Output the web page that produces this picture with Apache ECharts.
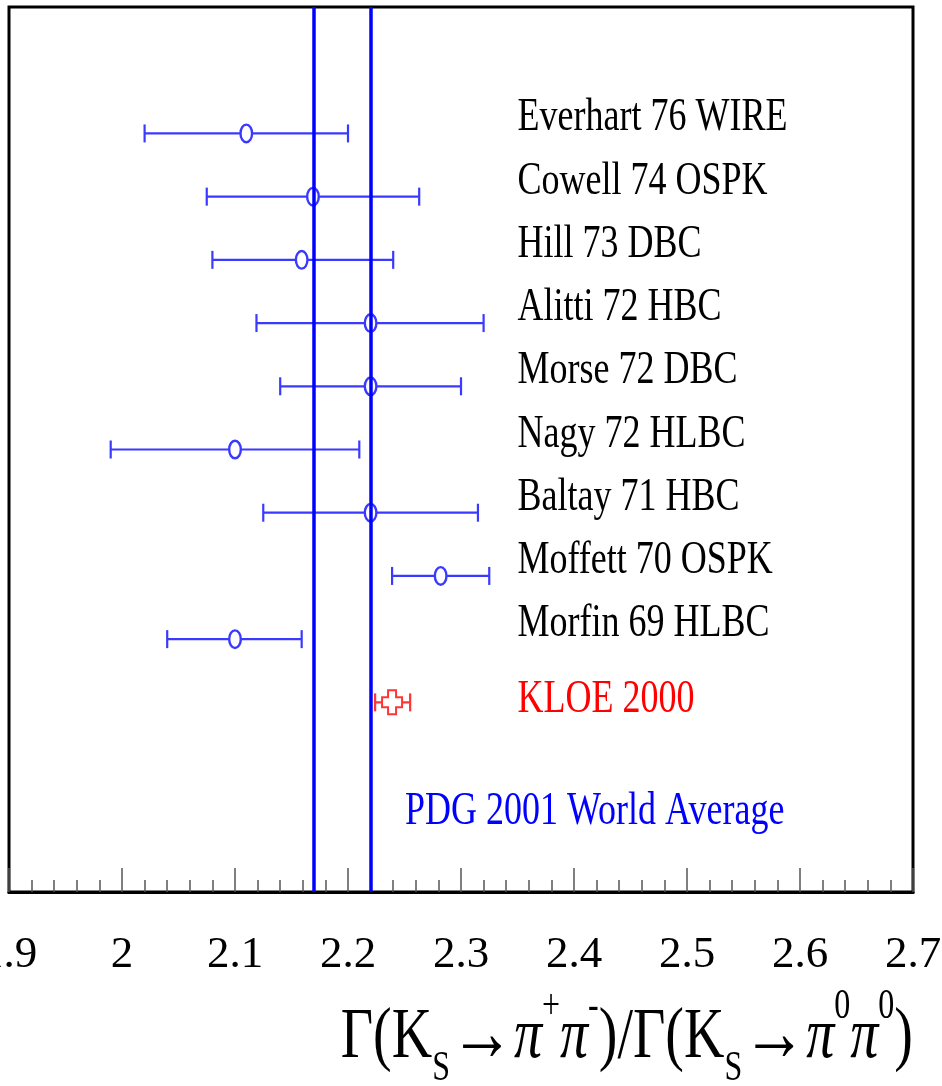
<!DOCTYPE html>
<html>
<head>
<meta charset="utf-8">
<script src="https://cdn.jsdelivr.net/npm/echarts@6/dist/echarts.min.js"></script>
<style>
  html, body { margin: 0; padding: 0; background: #fff; }
  #chart { width: 942px; height: 1086px; }
</style>
</head>
<body>
<div id="chart"></div>
<script>
var experiments = ['Everhart 76 WIRE', 'Cowell 74 OSPK', 'Hill 73 DBC', 'Alitti 72 HBC', 'Morse 72 DBC',
                   'Nagy 72 HLBC', 'Baltay 71 HBC', 'Moffett 70 OSPK', 'Morfin 69 HLBC'];
var centralValues = [2.110, 2.169, 2.159, 2.220, 2.220, 2.100, 2.220, 2.282, 2.100];
var lowValues     = [2.020, 2.075, 2.080, 2.119, 2.140, 1.990, 2.125, 2.239, 2.040];
var highValues    = [2.200, 2.263, 2.240, 2.320, 2.300, 2.210, 2.315, 2.325, 2.159];

var kloeName = ['KLOE 2000'];
var kloeCentral = [2.239];
var kloeLow = [2.224];
var kloeHigh = [2.255];

// PDG 2001 world average band edges
var pdgBand = [2.172, 2.223];

var xMin = 1.9, xMax = 2.7, xStep = 0.1;

// rows on the hidden y axis: two empty slots on top, three below
var firstRow = 2, rowCount = 14;

var expData = centralValues.map(function (c, i) {
    return [c, lowValues[i], highValues[i], firstRow + i];
});
var kloeData = kloeCentral.map(function (c, i) {
    return [c, kloeLow[i], kloeHigh[i], firstRow + experiments.length + i];
});

var serif = '"Liberation Serif", "Times New Roman", serif';
var labelFont = '36px ' + serif;
var stretch = 1.27;

function crossPoints(x, y) {
    var ax = 4, ay = 5, ex = 10, ey = 12;
    return [[x - ax, y - ey], [x + ax, y - ey], [x + ax, y - ay], [x + ex, y - ay], [x + ex, y + ay],
            [x + ax, y + ay], [x + ax, y + ey], [x - ax, y + ey], [x - ax, y + ay], [x - ex, y + ay],
            [x - ex, y - ay], [x - ax, y - ay]];
}

function errorBars(names, color, textColor, marker, labelShift) {
    return function (params, api) {
        var row = api.value(3);
        var c = api.coord([api.value(0), row]);
        var lo = api.coord([api.value(1), row]);
        var hi = api.coord([api.value(2), row]);
        var y = c[1];
        var st = { stroke: color, lineWidth: 2.2 };
        var kids = [
            { type: 'line', shape: { x1: lo[0], y1: y, x2: hi[0], y2: y }, style: st },
            { type: 'line', shape: { x1: lo[0], y1: y - 9, x2: lo[0], y2: y + 9 }, style: st },
            { type: 'line', shape: { x1: hi[0], y1: y - 9, x2: hi[0], y2: y + 9 }, style: st }
        ];
        if (marker === 'circle') {
            kids.push({ type: 'ellipse', shape: { cx: c[0], cy: y, rx: 5.8, ry: 8.8 },
                        style: { fill: '#fff', stroke: color, lineWidth: 2.4 } });
        } else {
            kids.push({ type: 'polygon', shape: { points: crossPoints(c[0], y) },
                        style: { fill: '#fff', stroke: color, lineWidth: 2 } });
        }
        var lx = api.coord([2.35, row])[0];
        kids.push({
            type: 'text', x: lx, y: y - 15 + labelShift, scaleY: stretch,
            style: { text: names[params.dataIndex], font: labelFont, fill: textColor,
                     align: 'left', verticalAlign: 'middle' }
        });
        return { type: 'group', children: kids };
    };
}

var chart = echarts.init(document.getElementById('chart'));

var option = {
    animation: false,
    backgroundColor: '#fff',
    grid: {
        left: 9, right: 29, top: 7, bottom: 194,
        show: true, borderColor: '#000', borderWidth: 3,
        containLabel: false, outerBoundsMode: 'none'
    },
    xAxis: {
        type: 'value', min: xMin, max: xMax, interval: xStep,
        axisLine: { show: true, onZero: false, lineStyle: { color: '#000', width: 3 } },
        axisTick: { show: true, inside: true, length: 24, lineStyle: { color: '#555', width: 1.5 } },
        minorTick: { show: true, splitNumber: 5, length: 12, lineStyle: { color: '#555', width: 1.5 } },
        splitLine: { show: false },
        minorSplitLine: { show: false },
        axisLabel: {
            fontFamily: serif, fontSize: 45, color: '#000',
            margin: 41, showMinLabel: true, showMaxLabel: true, hideOverlap: false
        }
    },
    yAxis: { type: 'value', min: 0, max: rowCount, inverse: true, show: false },
    series: [
        {
            type: 'custom', z: 2,
            renderItem: errorBars(experiments, '#3a3aff', '#000', 'circle', 0),
            encode: { x: [0, 1, 2], y: 3 },
            data: expData
        },
        {
            type: 'custom', z: 2,
            renderItem: errorBars(kloeName, '#ff3535', '#ff0000', 'cross', 13),
            encode: { x: [0, 1, 2], y: 3 },
            data: kloeData
        },
        {
            type: 'line', z: 5, data: [], silent: true,
            markLine: {
                silent: true, symbol: 'none', animation: false,
                label: { show: false },
                lineStyle: { color: '#0000ff', width: 3.5, type: 'solid' },
                data: pdgBand.map(function (v) { return { xAxis: v }; })
            }
        }
    ],
    graphic: [
        {
            type: 'text', x: 405, y: 812, scaleY: stretch,
            style: { text: 'PDG 2001 World Average', font: labelFont, fill: '#0000ff',
                     align: 'left', verticalAlign: 'middle' }
        },
        {
            type: 'text', x: 913, y: 1038, scaleY: 1.3,
            style: {
                text: '{m|Γ(K}{sub|S}{arr|→}{pi|π}{sup|+}{pi|π}{sup|-}{m|)/Γ(K}{sub|S}{arr|→}{pi|π}{sup|0}{pi|π}{sup|0}{m|)}',
                align: 'right', verticalAlign: 'middle', fill: '#000',
                rich: {
                    m: { fontFamily: serif, fontSize: 56, lineHeight: 80, fill: '#000' },
                    pi: { fontFamily: serif, fontSize: 56, fontStyle: 'italic', lineHeight: 80, fill: '#000' },
                    arr: { fontFamily: serif, fontSize: 64, lineHeight: 80, fill: '#000' },
                    sub: { fontFamily: serif, fontSize: 32, lineHeight: 80,
                           verticalAlign: 'bottom', fill: '#000' },
                    sup: { fontFamily: serif, fontSize: 32, lineHeight: 80,
                           verticalAlign: 'top', fill: '#000' }
                }
            }
        }
    ]
};

chart.setOption(option);
</script>
</body>
</html>
